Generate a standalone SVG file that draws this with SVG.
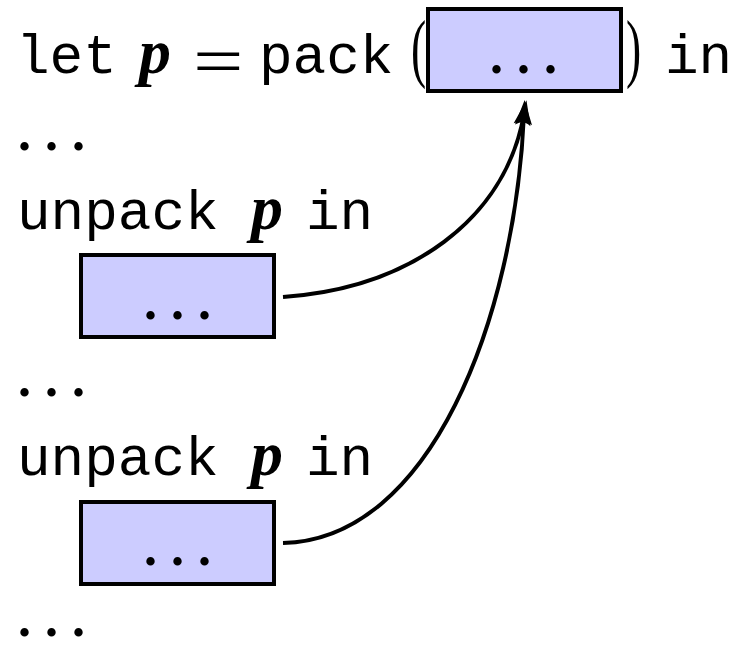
<svg xmlns="http://www.w3.org/2000/svg" width="751" height="648" viewBox="0 0 751 648">
  <style>
    .code { font-family: "Liberation Mono", "Courier New", monospace; font-size: 56px; fill: #000; }
    .var { font-family: "Liberation Serif", "Times New Roman", serif; font-weight: bold; font-style: italic; font-size: 64px; fill: #000; }
    .sym { font-family: "Liberation Serif", "Times New Roman", serif; font-size: 70px; fill: #000; }
    .paren { font-family: "Liberation Serif", "Times New Roman", serif; font-size: 76px; fill: #000; }
    .dots { font-family: "Liberation Serif", "Times New Roman", serif; font-weight: bold; font-size: 52px; letter-spacing: 14px; fill: #000; }
    .box { fill: #ccccff; stroke: #000; stroke-width: 4; }
    .link { fill: none; stroke: #000; stroke-width: 4; }
  </style>
  <defs>
    <marker id="arrow" markerUnits="userSpaceOnUse" markerWidth="40" markerHeight="40" refX="0" refY="0" orient="auto" overflow="visible" viewBox="-20 -20 40 40">
      <path d="M14,0 L-11,-8.5 Q-5,0 -11,8.5 Z" fill="#000"/>
    </marker>
  </defs>

  <!-- line 1: let p = pack( ... ) in -->
  <g id="line-let">
    <text class="code" x="16" y="73">let</text>
    <text class="var" x="139" y="73">p</text>
    <text class="sym" transform="translate(193,85) scale(1.28,1)">=</text>
    <text class="code" x="259" y="73">pack</text>
    <text class="paren" transform="translate(411,73) scale(0.6,1)">(</text>
    <text class="paren" transform="translate(626,73) scale(0.6,1)">)</text>
    <text class="code" x="665" y="73">in</text>
  </g>
  <g id="packed-box">
    <rect class="box" x="428" y="9" width="193" height="82"/>
    <text class="dots" x="490" y="73">...</text>
  </g>

  <g id="ellipsis-1">
    <text class="dots" x="18" y="150">...</text>
  </g>

  <!-- first unpack -->
  <g id="unpack-1">
    <text class="code" x="17" y="229">unpack</text>
    <text class="var" x="251" y="229">p</text>
    <text class="code" x="306" y="229">in</text>
  </g>
  <g id="unpack-box-1">
    <rect class="box" x="81" y="255" width="193" height="82"/>
    <text class="dots" x="144" y="319">...</text>
  </g>

  <g id="ellipsis-2">
    <text class="dots" x="18" y="396">...</text>
  </g>

  <!-- second unpack -->
  <g id="unpack-2">
    <text class="code" x="17" y="475">unpack</text>
    <text class="var" x="251" y="475">p</text>
    <text class="code" x="306" y="475">in</text>
  </g>
  <g id="unpack-box-2">
    <rect class="box" x="81" y="502" width="193" height="82"/>
    <text class="dots" x="144" y="565">...</text>
  </g>

  <g id="ellipsis-3">
    <text class="dots" x="18" y="636">...</text>
  </g>

  <!-- connectors from each unpack body to the packed term -->
  <g id="connectors">
    <path class="link" d="M283,297 C410,288 505,220 524,114" marker-end="url(#arrow)"/>
    <path class="link" d="M283,543 C430,540 515,320 524,114" marker-end="url(#arrow)"/>
  </g>
</svg>
